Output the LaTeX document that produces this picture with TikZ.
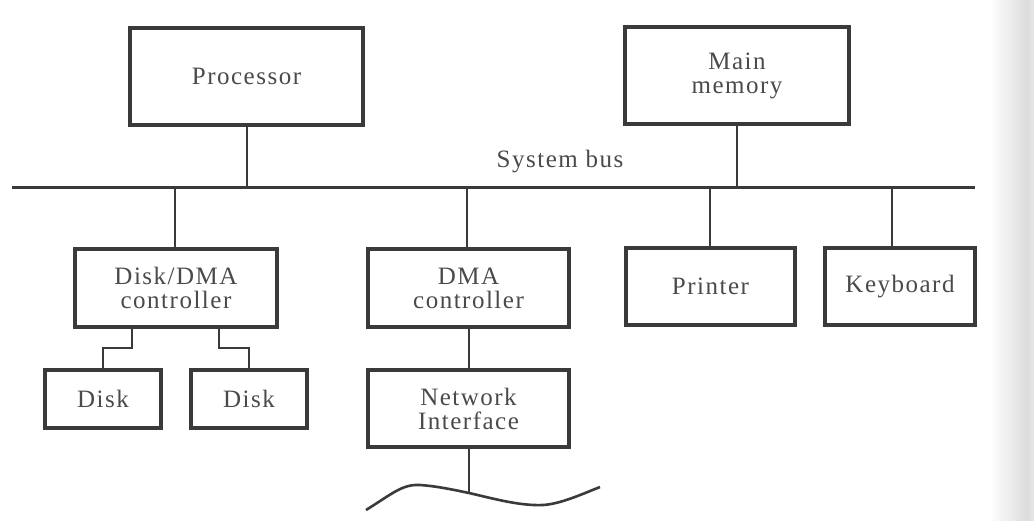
\documentclass[tikz,border=0pt]{standalone}
\usepackage{fontspec}
\newfontfamily\lblfont[LetterSpace=6]{Liberation Serif}
\definecolor{ink}{HTML}{3A3A3A}
\definecolor{txt}{HTML}{4A4A4A}
\begin{document}
\begin{tikzpicture}[x=1pt,y=-1pt,
  lbl/.style={text=txt, font=\lblfont\fontsize{25}{24}\selectfont},
  unit/.style={lbl, draw=ink, line width=3.6pt, inner sep=0pt, align=center},
  wire/.style={draw=ink, line width=2pt},
  busline/.style={draw=ink, line width=3pt}]
\useasboundingbox (0,0) rectangle (1034,521);
% page edge at the right
\shade[left color=white, right color=gray!28] (990,0) rectangle (1027,521);
\shade[left color=gray!28, right color=gray!18] (1027,0) rectangle (1034,521);

% units on the system bus
\node[unit, minimum width=233pt, minimum height=97pt] (proc) at (246.5,76.5) {Processor};
\node[unit, minimum width=224pt, minimum height=97pt] (mem) at (737,75.5) {Main\\memory};
\node[unit, minimum width=202pt, minimum height=78pt] (dd) at (176,288) {Disk/DMA\\controller};
\node[unit, minimum width=201pt, minimum height=78pt] (dma) at (468.5,288) {DMA\\controller};
\node[unit, minimum width=169pt, minimum height=77pt] (prn) at (710.5,286.5) {Printer};
\node[unit, minimum width=150pt, minimum height=77pt] (kbd) at (900,286.5) {Keyboard};
% devices below the controllers
\node[unit, minimum width=116pt, minimum height=58pt] (d1) at (103,399) {Disk};
\node[unit, minimum width=116pt, minimum height=58pt] (d2) at (249,399) {Disk};
\node[unit, minimum width=201pt, minimum height=77pt] (ni) at (468.5,408.5) {Network\\Interface};

% system bus
\coordinate (busL) at (12,188);
\coordinate (busR) at (975,188);
\draw[busline] (busL) -- (busR);
\node[lbl, anchor=base, inner sep=0pt] (buslbl) at (560,168) {System bus};

% taps on the bus
\coordinate (t1) at (175,188);
\coordinate (t2) at (467,188);
\coordinate (t3) at (710,188);
\coordinate (t4) at (892,188);
\draw[wire] (proc.south) -- (proc.south |- busL);
\draw[wire] (mem.south) -- (mem.south |- busL);
\draw[wire] (t1) -- (t1 |- dd.north);
\draw[wire] (t2) -- (t2 |- dma.north);
\draw[wire] (t3) -- (t3 |- prn.north);
\draw[wire] (t4) -- (t4 |- kbd.north);

% disk links
\coordinate (k1) at (132,348);
\coordinate (k2) at (219,348);
\draw[wire] (k1 |- dd.south) -- (k1) -| (d1.north);
\draw[wire] (k2 |- dd.south) -- (k2) -| (d2.north);

% network side
\draw[wire] (dma.south) -- (ni.north);
\coordinate (net) at (469,493);
\draw[wire] (ni.south -| net) -- (net);
\draw[draw=ink, line width=2.6pt] (366,510) .. controls (392,494) and (402,484) .. (420,485)
  .. controls (435,486) and (450,489) .. (net)
  .. controls (495,499) and (520,506) .. (543,505)
  .. controls (560,504) and (580,495) .. (600,487);
\end{tikzpicture}
\end{document}
